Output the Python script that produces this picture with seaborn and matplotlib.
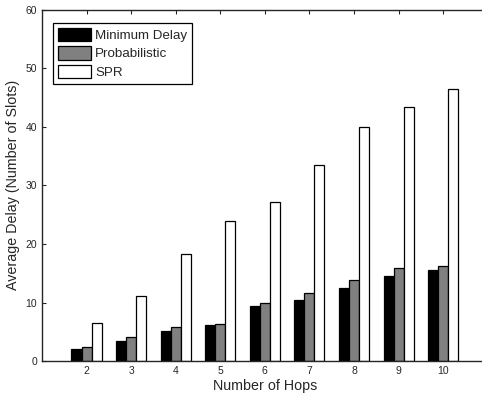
import pandas as pd
import matplotlib.pyplot as plt
import seaborn as sns

# values
hops = [2, 3, 4, 5, 6, 7, 8, 9, 10]
min_delay = [2.1, 3.5, 5.2, 6.2, 9.35, 10.5, 12.5, 14.5, 15.55]
probabilistic = [2.45, 4.05, 5.75, 6.4, 9.85, 11.6, 13.8, 15.85, 16.3]
spr = [6.5, 11.2, 18.2, 23.9, 27.1, 33.4, 39.9, 43.4, 46.5]
series = ["Minimum Delay", "Probabilistic", "SPR"]
colors = ["black", "#808080", "white"]

df = pd.DataFrame({
    "Hops": hops * 3,
    "Delay": min_delay + probabilistic + spr,
    "Method": [series[0]] * 9 + [series[1]] * 9 + [series[2]] * 9,
})

sns.set_style("ticks")
plt.rcParams["font.family"] = ["Liberation Sans", "DejaVu Sans"]

fig = plt.figure(figsize=(4.82, 3.96), dpi=100)
ax = fig.add_axes([0.087, 0.088, 0.925, 0.888])

sns.barplot(data=df, x="Hops", y="Delay", hue="Method", hue_order=series,
            palette=colors, native_scale=True, width=0.675, gap=0,
            saturation=1, edgecolor="black", linewidth=0.9, ax=ax, errorbar=None)

ax.set_xlim(1, 11)
ax.set_ylim(0, 60)
ax.set_xticks(hops)
ax.set_yticks(range(0, 61, 10))
ax.tick_params(direction="in", length=3, labelsize=7.5, top=True, right=True, width=0.8)
for s in ax.spines.values():
    s.set_visible(True)
    s.set_linewidth(1.0)
ax.set_xlabel("Number of Hops", fontsize=10.3, labelpad=2)
ax.set_ylabel("Average Delay (Number of Slots)", fontsize=10.3, labelpad=4)

handles, labels = ax.get_legend_handles_labels()
leg = ax.legend(handles, labels, loc="upper left", bbox_to_anchor=(0.025, 0.962),
                fontsize=9.6, frameon=True, fancybox=False, edgecolor="black",
                framealpha=1, handlelength=2.5, handleheight=1.15,
                borderpad=0.35, labelspacing=0.35, handletextpad=0.3, borderaxespad=0)
leg.get_frame().set_linewidth(0.9)

fig.savefig("out.png", dpi=100)
